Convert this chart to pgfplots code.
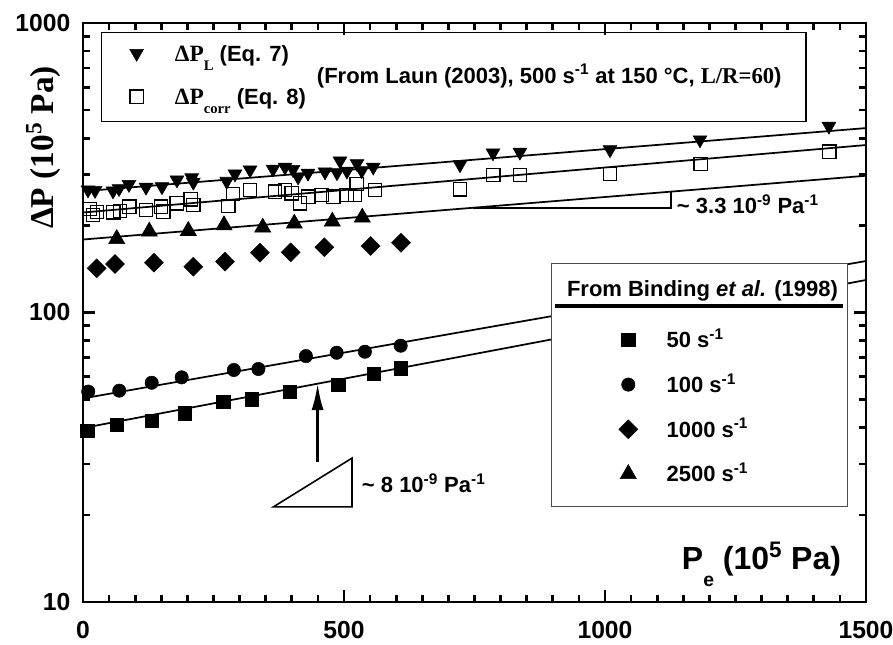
\documentclass[border=0pt]{standalone}
\usepackage{pgfplots}
\pgfplotsset{compat=1.18}
\usepackage{fontspec}
\setmainfont{Liberation Sans}
\newfontfamily\tnr{Liberation Serif}
\usetikzlibrary{arrows.meta}
\newcommand{\fs}[1]{\fontsize{#1}{#1}\selectfont}
\begin{document}
\begin{tikzpicture}
\begin{axis}[
  at={(0,0)}, anchor=south west, scale only axis, width=587.25pt, height=434.25pt,
  xmin=0, xmax=1500, ymode=log, ymin=10, ymax=1000, clip=false,
  axis line style={line width=2.2pt},
  tick style={line width=2pt, black},
  major tick length=9pt, minor tick length=5pt,
  xtick={0,500,1000,1500}, xticklabels={0,500,1000,1500}, minor x tick num=9,
  ytick={10,100,1000}, yticklabels={10,100,1000},
  minor ytick={20,30,40,50,60,70,80,90,200,300,400,500,600,700,800,900},
  tick label style={font=\fs{18.5}\bfseries},
  xticklabel style={yshift=-11pt},
  yticklabel style={xshift=-6pt},
  legend image code/.code={\path[draw=none,fill=none] (-8pt,-8pt) rectangle (8pt,8pt); \draw[#1] plot coordinates {(0pt,0pt)};},
  legend style={at={(axis description cs:0.0549,0.9661)}, anchor=north west, draw=none, fill=none,
    inner sep=0pt, outer sep=0pt, row sep=16.55pt, column sep=20.7pt, cells={anchor=west},
    nodes={inner sep=0pt, text height=13.8pt, text depth=2pt, font=\fs{16.5}\bfseries}},
]
% fit lines
\addplot[line width=1.3pt, forget plot] coordinates {(0,262.3) (1500,433.5)};
\addplot[line width=1.3pt, forget plot] coordinates {(0,221.5) (1500,378.9)};
\addplot[line width=1.3pt, forget plot] coordinates {(0,178.7) (1500,296.7)};
\addplot[line width=1.3pt, forget plot] coordinates {(0,50.5) (1500,150.6)};
\addplot[line width=1.3pt, forget plot] coordinates {(0,39.9) (1500,129.5)};
% Laun Delta P_L
\addplot[only marks, mark=triangle*, mark size=6pt, mark options={rotate=180, fill=black, draw=black}] coordinates {
(9.6,265) (23,264) (57.5,263) (69,268) (88,277) (120.7,271) (151.3,272) (180,287) (208.2,292) (211.3,282)
(275.3,284) (291.2,301) (320,311) (364,313) (387,318) (402.3,312) (412,294) (431,303) (463.6,306) (486.6,304)
(492.3,334) (505.7,308) (524.9,327) (534,309) (556,318) (722.2,324) (785.4,356) (837,358) (1009.6,365)
(1182,395) (1429,440)};
\addlegendentry{{\tnr\fs{17.5}ΔP}\raisebox{-7pt}{\tnr\fs{11}L} (Eq. 7)}
% Laun Delta P_corr
\addplot[only marks, mark=square, mark size=5pt, mark options={line width=0.9pt, draw=black, fill=none}] coordinates {
(13.4,227.8) (19.2,217.2) (26.8,222.1) (58,221.9) (70.9,224.2) (88.7,232) (120.7,226.1) (149.4,232) (153.8,222.9)
(179.5,238.4) (206.3,246) (211.3,235.1) (278.4,233.3) (287.4,256.7) (320,264.9) (367.8,261.4) (387,264.9)
(399.8,258) (415.7,238.4) (431.6,251.2) (457.3,254.6) (479.5,251.2) (505.2,254.6) (521,255) (524.3,277.9)
(559.4,264.9) (722.2,266.4) (786,298.5) (837.2,298.5) (1009.6,300.9) (1183.3,325.8) (1429.7,359.2)};
\addlegendentry{{\tnr\fs{17.5}ΔP}\raisebox{-7pt}{\tnr\fs{11}corr} (Eq. 8)}
% slope marks
\draw[line width=1.5pt] (axis cs:748,230.1) -- (axis cs:1126,230.1) -- (axis cs:1126,261.4);
\draw[line width=1.2pt] (axis cs:364.6,21.3) -- (axis cs:515.3,21.3) -- (axis cs:515.3,31.4) -- cycle;
\draw[line width=2pt, -{Latex[length=20pt,width=9pt]}] (axis cs:449.4,30.5) -- (axis cs:449.4,56.9);
\end{axis}

\begin{scope}[shift={(-62.25pt,451.5pt)}, x=0.75pt, y=-0.75pt]
 \draw[line width=0.9pt] (101.7,32.7) rectangle (806,121.7);
 \node[anchor=base west, inner sep=0pt, font=\fs{16.5}\bfseries] at (316.7,83.3)
   {(From Laun (2003), 500 s\textsuperscript{-1} at 150 °C, {\tnr\fs{17}L/R=60})};
 \draw[line width=0.9pt, draw=black!70, fill=white] (551.7,263.3) rectangle (847.3,506.7);
 \node[anchor=base, inner sep=0pt, font=\fs{16.5}\bfseries] at (702.5,296.7) {From Binding \textit{et al.} (1998)};
 \draw[line width=3pt] (555,306) -- (843.3,306);
 \node[anchor=base west, inner sep=0pt, font=\fs{16.5}\bfseries] at (676.7,214)
   {\textasciitilde\ 3.3 10\textsuperscript{-9} Pa\textsuperscript{-1}};
 \node[anchor=base west, inner sep=0pt, font=\fs{16.5}\bfseries] at (361.7,492.7)
   {\textasciitilde\ 8 10\textsuperscript{-9} Pa\textsuperscript{-1}};
 \node[anchor=base west, inner sep=0pt, font=\fs{24}\bfseries] at (681.7,569.3)
   {P\raisebox{-12.75pt}{\fs{14.5}e} (10\textsuperscript{5} Pa)};
 \node[rotate=90, anchor=base, inner sep=0pt, font=\fs{25}\bfseries\tnr] at (53.3,147.5)
   {ΔP (10\textsuperscript{5} Pa)};
\end{scope}

\begin{axis}[
  at={(0,0)}, anchor=south west, scale only axis, width=587.25pt, height=434.25pt,
  xmin=0, xmax=1500, ymode=log, ymin=10, ymax=1000, clip=false,
  hide axis,
  legend image code/.code={\path[draw=none,fill=none] (-8pt,-8pt) rectangle (8pt,8pt); \draw[#1] plot coordinates {(0pt,0pt)};},
  legend style={at={(axis description cs:0.6828,0.471)}, anchor=north west, draw=none, fill=none,
    inner sep=0pt, outer sep=0pt, row sep=17.5pt, column sep=20.7pt, cells={anchor=west},
    nodes={inner sep=0pt, text height=13.8pt, text depth=2pt, font=\fs{16.5}\bfseries}},
]
\addplot[only marks, mark=square*, mark size=5pt, mark options={fill=black, draw=black}] coordinates {
(8.3,39.1) (64.5,40.9) (131.6,42.3) (195,44.9) (269,49.2) (323,50.1) (396.5,53.3) (489,56.2) (557,61.3) (608.6,64.2)};
\addlegendentry{50 s\textsuperscript{-1}}
\addplot[only marks, mark=*, mark size=5pt, mark options={fill=black, draw=black}] coordinates {
(10,53.3) (69.5,53.7) (131.6,57.2) (189,59.7) (289,63.3) (336,63.8) (427,70.7) (486,72.6) (540,73.2) (608.6,76.8)};
\addlegendentry{100 s\textsuperscript{-1}}
\addplot[only marks, mark=square*, mark size=5pt, mark options={rotate=45, fill=black, draw=black}] coordinates {
(26.2,142.1) (61.3,147.1) (136,148.6) (211.3,143.9) (272,149.8) (339,160.9) (397.9,161.4) (462.3,168) (551.1,169.7) (609.2,174.2)};
\addlegendentry{1000 s\textsuperscript{-1}}
\addplot[only marks, mark=triangle*, mark size=7pt, mark options={fill=black, draw=black}] coordinates {
(64.6,179.5) (127,190.5) (201.7,191.5) (270.1,200.2) (344.3,196.6) (404.8,202.9) (477.6,206.2) (535,212.9)};
\addlegendentry{2500 s\textsuperscript{-1}}
\end{axis}
\pgfresetboundingbox
\path[use as bounding box] (-62.25pt,-32.25pt) rectangle (607.5pt,451.5pt);
\end{tikzpicture}
\end{document}
